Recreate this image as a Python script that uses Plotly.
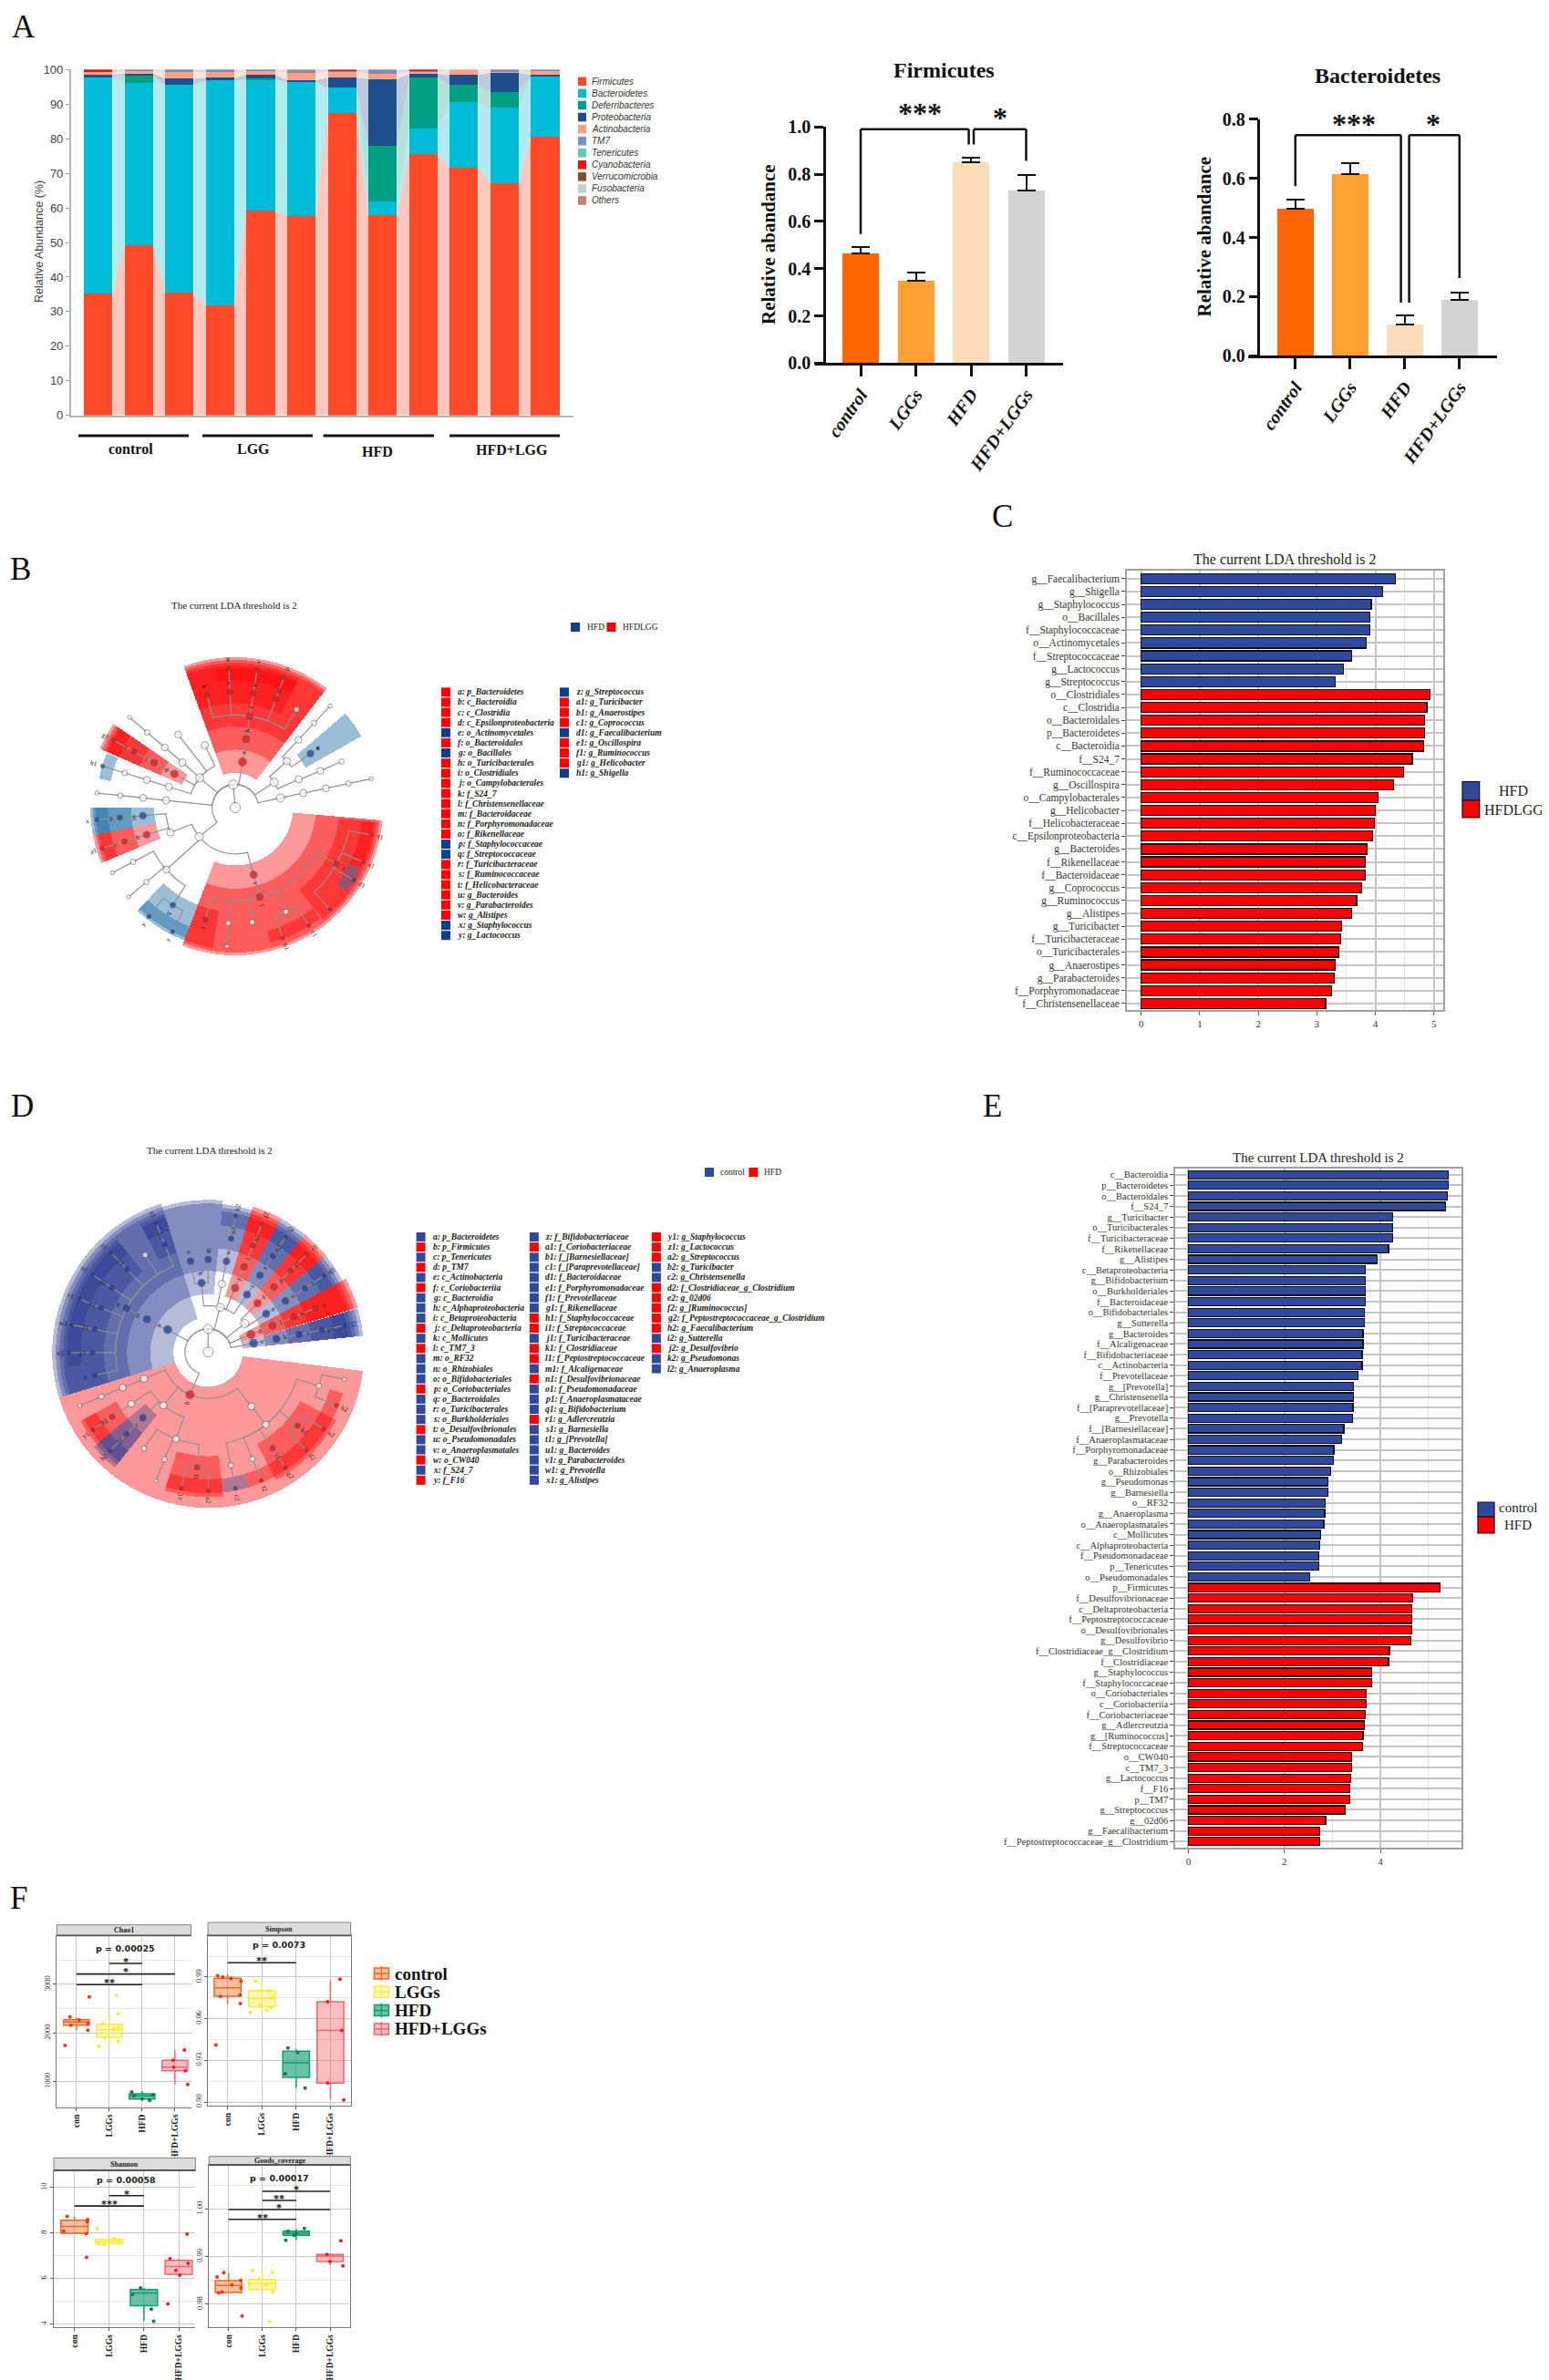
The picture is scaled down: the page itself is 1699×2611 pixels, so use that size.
import numpy as np
import plotly.graph_objects as go

W, H = 1699, 2611
PAGE_MARGIN = 8
SERIF = "Liberation Serif"
SANS = "Liberation Sans"
RED = "#ff0000"
NAVY = "#2f4a9c"

# ---------- panel A data ----------
samples = list(range(12))
phyla = ["Firmicutes", "Bacteroidetes", "Deferribacteres", "Proteobacteria", "Actinobacteria", "TM7",
         "Tenericutes", "Cyanobacteria", "Verrucomicrobia", "Fusobacteria", "Others"]
phyla_colors = ["#ff4a2a", "#00bcd8", "#009e82", "#1f4e8c", "#ffa080", "#7a8fc0",
                "#5fcdb5", "#ee1111", "#7e5233", "#c8cdd0", "#c98078"]
firmicutes = [35.2, 49.3, 35.4, 31.8, 59.1, 57.7, 87.5, 57.8, 75.5, 71.7, 67.1, 80.5]
bacteroidetes = [62.4, 46.8, 60.2, 65.0, 37.7, 38.6, 7.2, 4.0, 7.5, 18.9, 21.9, 17.5]
deferribacteres = [0, 2.3, 0, 0, 0.6, 0, 0, 16.2, 14.6, 5.0, 4.6, 0]
proteobacteria = [0.9, 0.4, 1.8, 0.8, 1.1, 0.6, 2.9, 19.3, 1.1, 2.8, 5.4, 0.4]
actinobacteria = [0.9, 0.8, 1.8, 1.6, 1.0, 2.0, 1.8, 1.5, 0.7, 1.6, 0.4, 1.2]
tm7 = [0, 0.4, 0.8, 0.8, 0.5, 0.8, 0.2, 1.0, 0.3, 0, 0.6, 0.4]
tenericutes = [0] * 12
cyanobacteria = [0.6, 0, 0, 0, 0, 0, 0.3, 0, 0.3, 0, 0, 0]
verrucomicrobia = [0] * 12
fusobacteria = [0] * 12
others = [0, 0, 0, 0, 0, 0.3, 0.1, 0.2, 0, 0, 0, 0]
phyla_values = [firmicutes, bacteroidetes, deferribacteres, proteobacteria, actinobacteria, tm7,
                tenericutes, cyanobacteria, verrucomicrobia, fusobacteria, others]

groups4 = ["control", "LGGs", "HFD", "HFD+LGGs"]
group4_colors = ["#ff6600", "#ffa033", "#fddcb9", "#d3d3d3"]
firm_mean = [0.465, 0.35, 0.85, 0.73]
firm_err = [0.028, 0.032, 0.02, 0.067]
bact_mean = [0.497, 0.615, 0.105, 0.19]
bact_err = [0.031, 0.037, 0.032, 0.024]

# ---------- LDA bars ----------
c_names = ["g__Faecalibacterium", "g__Shigella", "g__Staphylococcus", "o__Bacillales", "f__Staphylococcaceae",
           "o__Actinomycetales", "f__Streptococcaceae", "g__Lactococcus", "g__Streptococcus", "o__Clostridiales",
           "c__Clostridia", "o__Bacteroidales", "p__Bacteroidetes", "c__Bacteroidia", "f__S24_7",
           "f__Ruminococcaceae", "g__Oscillospira", "o__Campylobacterales", "g__Helicobacter", "f__Helicobacteraceae",
           "c__Epsilonproteobacteria", "g__Bacteroides", "f__Rikenellaceae", "f__Bacteroidaceae", "g__Coprococcus",
           "g__Ruminococcus", "g__Alistipes", "g__Turicibacter", "f__Turicibacteraceae", "o__Turicibacterales",
           "g__Anaerostipes", "g__Parabacteroides", "f__Porphyromonadaceae", "f__Christensenellaceae"]
c_values = [4.34, 4.13, 3.93, 3.91, 3.90, 3.84, 3.60, 3.45, 3.32, 4.93, 4.88, 4.84, 4.84, 4.83, 4.63, 4.48, 4.31,
            4.04, 4.00, 3.99, 3.95, 3.86, 3.83, 3.83, 3.76, 3.68, 3.59, 3.42, 3.41, 3.38, 3.31, 3.30, 3.25, 3.15]
c_blue_count = 9

e_names = ["c__Bacteroidia", "p__Bacteroidetes", "o__Bacteroidales", "f__S24_7", "g__Turicibacter",
           "o__Turicibacterales", "f__Turicibacteraceae", "f__Rikenellaceae", "g__Alistipes", "c__Betaproteobacteria",
           "g__Bifidobacterium", "o__Burkholderiales", "f__Bacteroidaceae", "o__Bifidobacteriales", "g__Sutterella",
           "g__Bacteroides", "f__Alcaligenaceae", "f__Bifidobacteriaceae", "c__Actinobacteria", "f__Prevotellaceae",
           "g__[Prevotella]", "g__Christensenella", "f__[Paraprevotellaceae]", "g__Prevotella", "f__[Barnesiellaceae]",
           "f__Anaeroplasmataceae", "f__Porphyromonadaceae", "g__Parabacteroides", "o__Rhizobiales", "g__Pseudomonas",
           "g__Barnesiella", "o__RF32", "g__Anaeroplasma", "o__Anaeroplasmatales", "c__Mollicutes",
           "c__Alphaproteobacteria", "f__Pseudomonadaceae", "p__Tenericutes", "o__Pseudomonadales", "p__Firmicutes",
           "f__Desulfovibrionaceae", "c__Deltaproteobacteria", "f__Peptostreptococcaceae", "o__Desulfovibrionales",
           "g__Desulfovibrio", "f__Clostridiaceae_g__Clostridium", "f__Clostridiaceae", "g__Staphylococcus",
           "f__Staphylococcaceae", "o__Coriobacteriales", "c__Coriobacteriia", "f__Coriobacteriaceae", "g__Adlercreutzia",
           "g__[Ruminococcus]", "f__Streptococcaceae", "o__CW040", "c__TM7_3", "g__Lactococcus", "f__F16", "p__TM7",
           "g__Streptococcus", "g__02d06", "g__Faecalibacterium", "f__Peptostreptococcaceae_g__Clostridium"]
e_values = [5.42, 5.41, 5.40, 5.35, 4.26, 4.25, 4.25, 4.17, 3.93, 3.69, 3.69, 3.69, 3.68, 3.66, 3.66, 3.64, 3.64,
            3.62, 3.62, 3.54, 3.44, 3.44, 3.43, 3.42, 3.24, 3.19, 3.03, 3.02, 2.97, 2.91, 2.90, 2.85, 2.84, 2.82,
            2.75, 2.73, 2.71, 2.71, 2.52, 5.25, 4.67, 4.66, 4.66, 4.65, 4.64, 4.19, 4.17, 3.82, 3.82, 3.70, 3.70,
            3.69, 3.67, 3.64, 3.63, 3.40, 3.40, 3.38, 3.37, 3.36, 3.27, 2.86, 2.73, 2.73]
e_blue_count = 39

# ---------- cladogram legends ----------
b_legend_1 = ["a: p_Bacteroidetes", "b: c_Bacteroidia", "c: c_Clostridia", "d: c_Epsilonproteobacteria",
              "e: o_Actinomycetales", "f: o_Bacteroidales", "g: o_Bacillales", "h: o_Turicibacterales",
              "i: o_Clostridiales", "j: o_Campylobacterales", "k: f_S24_7", "l: f_Christensenellaceae",
              "m: f_Bacteroidaceae", "n: f_Porphyromonadaceae", "o: f_Rikenellaceae", "p: f_Staphylococcaceae",
              "q: f_Streptococcaceae", "r: f_Turicibacteraceae", "s: f_Ruminococcaceae", "t: f_Helicobacteraceae",
              "u: g_Bacteroides", "v: g_Parabacteroides", "w: g_Alistipes", "x: g_Staphylococcus", "y: g_Lactococcus"]
b_legend_2 = ["z: g_Streptococcus", "a1: g_Turicibacter", "b1: g_Anaerostipes", "c1: g_Coprococcus",
              "d1: g_Faecalibacterium", "e1: g_Oscillospira", "f1: g_Ruminococcus", "g1: g_Helicobacter", "h1: g_Shigella"]
b_legend_blue = {"e", "g", "p", "q", "x", "y", "z", "d1", "h1"}

d_legend_1 = ["a: p_Bacteroidetes", "b: p_Firmicutes", "c: p_Tenericutes", "d: p_TM7", "e: c_Actinobacteria",
              "f: c_Coriobacteriia", "g: c_Bacteroidia", "h: c_Alphaproteobacteria", "i: c_Betaproteobacteria",
              "j: c_Deltaproteobacteria", "k: c_Mollicutes", "l: c_TM7_3", "m: o_RF32", "n: o_Rhizobiales",
              "o: o_Bifidobacteriales", "p: o_Coriobacteriales", "q: o_Bacteroidales", "r: o_Turicibacterales",
              "s: o_Burkholderiales", "t: o_Desulfovibrionales", "u: o_Pseudomonadales", "v: o_Anaeroplasmatales",
              "w: o_CW040", "x: f_S24_7", "y: f_F16"]
d_legend_2 = ["z: f_Bifidobacteriaceae", "a1: f_Coriobacteriaceae", "b1: f_[Barnesiellaceae]", "c1: f_[Paraprevotellaceae]",
              "d1: f_Bacteroidaceae", "e1: f_Porphyromonadaceae", "f1: f_Prevotellaceae", "g1: f_Rikenellaceae",
              "h1: f_Staphylococcaceae", "i1: f_Streptococcaceae", "j1: f_Turicibacteraceae", "k1: f_Clostridiaceae",
              "l1: f_Peptostreptococcaceae", "m1: f_Alcaligenaceae", "n1: f_Desulfovibrionaceae", "o1: f_Pseudomonadaceae",
              "p1: f_Anaeroplasmataceae", "q1: g_Bifidobacterium", "r1: g_Adlercreutzia", "s1: g_Barnesiella",
              "t1: g_[Prevotella]", "u1: g_Bacteroides", "v1: g_Parabacteroides", "w1: g_Prevotella", "x1: g_Alistipes"]
d_legend_3 = ["y1: g_Staphylococcus", "z1: g_Lactococcus", "a2: g_Streptococcus", "b2: g_Turicibacter",
              "c2: g_Christensenella", "d2: f_Clostridiaceae_g_Clostridium", "e2: g_02d06", "f2: g_[Ruminococcus]",
              "g2: f_Peptostreptococcaceae_g_Clostridium", "h2: g_Faecalibacterium", "i2: g_Sutterella",
              "j2: g_Desulfovibrio", "k2: g_Pseudomonas", "l2: g_Anaeroplasma"]
d_legend_red = {"b", "d", "f", "j", "l", "p", "t", "w", "y", "a1", "h1", "i1", "k1", "l1", "n1", "r1", "y1", "z1",
                "a2", "d2", "e2", "f2", "g2", "h2", "j2"}

# ---------- cladogram trees: id, parent, level, angle, group, span ----------
clade_b = [
    ("_r", None, 0, 90, None, None), ("_k", "_r", 1, 95, None, None),
    ("a", "_k", 2, 81, "r", (52.5, 110)), ("b", "a", 3, 81, "r", (52.5, 110)), ("f", "b", 4, 81, "r", (52.5, 110)),
    ("k", "f", 5, 104, "r", (98.3, 110)), ("o", "f", 5, 92.6, "r", (86.8, 98.3)), ("w", "o", 6, 92.6, "r", (86.8, 98.3)),
    ("n", "f", 5, 81, "r", (75.3, 86.8)), ("v", "n", 6, 81, "r", (75.3, 86.8)),
    ("m", "f", 5, 69.5, "r", (63.8, 75.3)), ("u", "m", 6, 69.5, "r", (63.8, 75.3)), ("_1", "f", 5, 58, None, None),
    ("_2", "_k", 2, 12, None, None), ("_3", "_2", 3, 12, None, None), ("_4", "_3", 4, 12, None, None),
    ("_5", "_4", 5, 12, None, None), ("_6", "_5", 6, 12, None, None),
    ("_A", "_k", 2, 33, None, None), ("_7", "_A", 3, 24, None, None), ("_8", "_7", 4, 23.4, None, None),
    ("_9", "_8", 5, 23.4, None, None), ("_10", "_A", 3, 42, None, None),
    ("e", "_10", 4, 35.7, "b", (29.5, 40.5)), ("_11", "e", 4.4, 35.7, "n", None),
    ("_12", "_10", 4, 47, None, None), ("_13", "_12", 5, 47, None, None), ("_14", "_13", 6, 47, None, None),
    ("_P", "_k", 2, 140, None, None),
    ("d", "_P", 3, 151, "r", (145.5, 156.5)), ("j", "d", 4, 151, "r", (145.5, 156.5)),
    ("t", "j", 5, 151, "r", (145.5, 156.5)), ("g1", "t", 6, 151, "r", (145.5, 156.5)),
    ("_15", "_P", 3, 162.6, None, None), ("_16", "_15", 4, 162.6, None, None), ("_17", "_16", 5, 162.6, None, None),
    ("h1", "_17", 6, 162.6, "b", (157, 168)),
    ("_18", "_P", 3, 139.5, None, None), ("_19", "_18", 4, 139.5, None, None), ("_20", "_19", 5, 139.5, None, None),
    ("_21", "_20", 6, 139.5, None, None), ("_22", "_P", 4, 128, None, None), ("_23", "_P", 3, 116, None, None),
    ("_24", "_k", 3, 174, None, None), ("_25", "_24", 4, 174, None, None), ("_26", "_25", 5, 174, None, None),
    ("_27", "_26", 6, 174, None, None),
    ("_F", "_k", 2, 219, None, None), ("_Ba", "_F", 3, 201, None, None),
    ("g", "_Ba", 4, 185, "b", (180, 191)), ("p", "g", 5, 185, "b", (180, 191)), ("x", "p", 6, 185, "b", (180, 191)),
    ("h", "_Ba", 4, 197, "r", (191, 202.5)), ("r", "h", 5, 197, "r", (191, 202.5)), ("a1", "r", 6, 197, "r", (191, 202.5)),
    ("_La", "_F", 4, 222, None, None), ("_28", "_La", 5, 208, None, None), ("_29", "_28", 6, 208, None, None),
    ("_30", "_La", 5, 220, None, None), ("_31", "_30", 6, 220, None, None),
    ("q", "_La", 5, 237.4, "b", (226.5, 249)), ("y", "q", 6, 231.6, "b", (226.5, 237.6)), ("z", "q", 6, 243.2, "b", (237.6, 249)),
    ("c", "_F", 3, 285.3, "r", (249, 355)), ("i", "c", 4, 285.3, "r", (249, 355)),
    ("l", "i", 5, 255, "r", (249, 261)), ("_32", "i", 5, 266.6, None, None), ("_33", "_32", 6, 266.6, None, None),
    ("_34", "i", 5, 278.4, None, None), ("_35", "i", 5, 296, None, None),
    ("b1", "_35", 6, 290, "r", (284.5, 296)), ("c1", "_35", 6, 302, "r", (296, 307.5)),
    ("s", "i", 5, 331, "r", (308, 354)), ("_36", "s", 6, 313, "n", None),
    ("d1", "s", 6, 328.6, "b", (323, 334)), ("e1", "s", 6, 337, "r", (334, 343)), ("f1", "s", 6, 348.6, "r", (343, 354)),
]

clade_d = [
    ("_r", None, 0, 90, None, None), ("_k", "_r", 1, 90, None, None),
    ("c", "_k", 2, 11, "b", (6, 16.3)), ("k", "c", 3, 11, "b", (6, 16.3)), ("v", "k", 4, 11, "b", (6, 16.3)),
    ("p1", "v", 5, 11, "b", (6, 16.3)), ("l2", "p1", 6, 11, "b", (6, 16.3)),
    ("d", "_k", 2, 22.3, "r", (16.5, 28)), ("l", "d", 3, 22.3, "r", (16.5, 28)), ("w", "l", 4, 22.3, "r", (16.5, 28)),
    ("y", "w", 5, 22.3, "r", (16.5, 28)),
    ("_A", "_k", 2, 38, None, None),
    ("e", "_A", 3, 33.4, "b", (28, 39.3)), ("o", "e", 4, 33.4, "b", (28, 39.3)), ("z", "o", 5, 33.4, "b", (28, 39.3)),
    ("q1", "z", 6, 33.4, "b", (28, 39.3)),
    ("f", "_A", 3, 44.7, "r", (39.3, 50.5)), ("p", "f", 4, 44.7, "r", (39.3, 50.5)), ("a1", "p", 5, 44.7, "r", (39.3, 50.5)),
    ("r1", "a1", 6, 44.7, "r", (39.3, 50.5)),
    ("_P", "_k", 2, 75, None, None),
    ("i", "_P", 3, 56, "b", (50.5, 61.5)), ("s", "i", 4, 56, "b", (50.5, 61.5)), ("m1", "s", 5, 56, "b", (50.5, 61.5)),
    ("i2", "m1", 6, 56, "b", (50.5, 61.5)),
    ("j", "_P", 3, 67.2, "r", (61.5, 73)), ("t", "j", 4, 67.2, "r", (61.5, 73)), ("n1", "t", 5, 67.2, "r", (61.5, 73)),
    ("j2", "n1", 6, 67.2, "r", (61.5, 73)),
    ("_w", "_P", 3, 78.6, None, None), ("u", "_w", 4, 78.6, "b", (73, 84.4)), ("o1", "u", 5, 78.6, "b", (73, 84.4)),
    ("k2", "o1", 6, 78.6, "b", (73, 84.4)),
    ("h", "_P", 3, 95.5, "b", (84.4, 107.5)), ("n", "h", 4, 101, "b", (96, 107.5)), ("m", "h", 4, 90, "b", (84.4, 96)),
    ("a", "_k", 2, 151, "b", (107.5, 197)), ("g", "a", 3, 151.7, "b", (107.5, 197)), ("q", "g", 4, 151.8, "b", (107.5, 197)),
    ("b1", "q", 5, 112, "b", (107.5, 118)), ("s1", "b1", 6, 112, "b", (107.5, 118)), ("_0", "q", 5, 123, None, None),
    ("c1", "q", 5, 134.4, "b", (129, 140.3)), ("t1", "c1", 6, 134.4, "b", (129, 140.3)),
    ("d1", "q", 5, 146.2, "b", (140.3, 152)), ("u1", "d1", 6, 146.2, "b", (140.3, 152)),
    ("e1", "q", 5, 157.5, "b", (152, 163)), ("v1", "e1", 6, 157.5, "b", (152, 163)),
    ("f1", "q", 5, 168.7, "b", (163, 174.5)), ("w1", "f1", 6, 168.7, "b", (163, 174.5)),
    ("g1", "q", 5, 180.3, "b", (174.5, 186)), ("x1", "g1", 6, 180.3, "b", (174.5, 186)),
    ("x", "q", 5, 191.5, "b", (186, 197)),
    ("b", "_k", 2, 247, "r", (197, 353)),
    ("_1", "b", 3, 202.6, None, None), ("_2", "_1", 4, 202.6, None, None), ("_3", "_2", 5, 202.6, None, None),
    ("_4", "_3", 6, 202.6, None, None),
    ("_C", "b", 3, 230, None, None), ("_C1", "_C", 4, 214, None, None),
    ("h1", "_C1", 5, 214, "r", (208.4, 219.6)), ("y1", "h1", 6, 214, "r", (208.4, 219.6)),
    ("r", "_C", 4, 225.2, "b", (219.6, 231)), ("j1", "r", 5, 225.2, "b", (219.6, 231)), ("b2", "j1", 6, 225.2, "b", (219.6, 231)),
    ("_C2", "_C", 4, 249.7, None, None), ("_5", "_C2", 5, 236.4, None, None), ("_6", "_C2", 5, 247.9, None, None),
    ("_7", "_6", 6, 247.9, None, None),
    ("l1", "_C2", 5, 264.5, "r", (252.6, 276)), ("z1", "l1", 6, 258.9, "r", (252.6, 264.5)), ("a2", "l1", 6, 270.1, "r", (264.5, 276)),
    ("_L", "b", 3, 308.5, None, None), ("_O", "_L", 4, 308.5, None, None),
    ("_8", "_O", 5, 281.3, None, None), ("c2", "_8", 6, 281.3, "b", (276, 287)),
    ("_9", "_O", 5, 292.5, None, None), ("f2", "_9", 6, 292.5, "r", (287, 298)),
    ("i1", "_O", 5, 303.8, "r", (298, 309.5)), ("g2", "i1", 6, 303.8, "r", (298, 309.5)),
    ("k1", "_O", 5, 320.5, "r", (309.5, 332)), ("d2", "k1", 6, 315, "r", (309.5, 320.5)), ("e2", "k1", 6, 326.3, "r", (320.5, 332)),
    ("_10", "_O", 5, 343, None, None), ("h2", "_10", 6, 337.4, "r", (332, 343)), ("_11", "_10", 6, 348.7, None, None),
]

# ---------- alpha diversity: q1, median, q3, lower fence, upper fence ----------
box_colors = ["#f4661c", "#f7e93e", "#0f9d6f", "#f2636b"]
box_fills = ["rgba(244,102,28,.42)", "rgba(250,240,70,.42)", "rgba(15,157,111,.62)", "rgba(242,99,107,.42)"]
dot_colors = ["#f2360f", "#f7ee30", "#0a7d4d", "#ee2026"]

chao_stats = [(2162, 2225, 2275, 2056, 2319), (1912, 2069, 2181, 1725, 2381), (644, 706, 750, 631, 806), (1225, 1300, 1437, 944, 1644)]
chao_points = [
    [(-.35, 1744), (-.2, 2331), (-.17, 2162), (.08, 2269), (.35, 2194), (.35, 2056), (.39, 2744)],
    [(-.31, 1731), (-.19, 2194), (-.13, 1900), (.14, 2100), (.27, 2400), (.21, 2775), (.27, 1831), (.29, 2119)],
    [(-.32, 788), (-.25, 706), (0, 644), (.23, 613), (.33, 725)],
    [(-.06, 1437), (-.04, 1300), (.32, 1225), (.29, 1650), (.39, 944)]]
chao_sig = [(0, 2, 2994, "**"), (0, 3, 3212, "*"), (1, 2, 3431, "*")]

simpson_stats = [(.9762, .9823, .9891, .9707, .992), (.9686, .9745, .9801, .9648, .987), (.9177, .9283, .9366, .91, .9385), (.9136, .9516, .9722, .9018, .988)]
simpson_points = [
    [(-.34, .941), (-.29, .991), (-.21, .976), (-.14, .99), (.1, .989), (.36, .977), (.39, .987), (.37, .971)],
    [(-.34, .9646), (-.18, .987), (-.11, .98), (-.07, .97), (.14, .966), (.22, .98), (.3, .9755), (.27, .968)],
    [(-.32, .9204), (-.24, .939), (.05, .9357), (.26, .91)],
    [(-.08, .9722), (-.08, .9136), (.33, .9516), (.28, .9885), (.39, .9015)]]
simpson_sig = [(0, 2, 1.0003, "**")]

shannon_stats = [(7.99, 8.29, 8.56, 8.0, 8.73), (7.53, 7.63, 7.73, 7.47, 7.8), (4.8, 5.37, 5.52, 4.13, 5.6), (6.19, 6.53, 6.8, 6.19, 6.87)]
shannon_points = [
    [(-.31, 8.08), (-.21, 8.73), (.37, 8.49), (.38, 8.59), (.34, 7.97), (.35, 6.93)],
    [(-.35, 8.19), (-.29, 7.52), (-.16, 7.49), (.15, 7.76), (.28, 7.63)],
    [(-.33, 5.31), (-.1, 5.59), (.21, 4.65), (.28, 4.12)],
    [(-.25, 6.87), (-.08, 6.36), (.03, 6.15), (.27, 6.67), (.24, 7.95), (-.31, 4.88)]]
shannon_sig = [(0, 2, 9.19, "***"), (1, 2, 9.65, "*")]

goods_stats = [(.98248, .98395, .98497, .9824, .9865), (.98312, .9844, .98522, .98312, .98694), (.99446, .9949, .99535, .9935, .99586), (.98898, .99013, .99045, .9882, .99057)]
goods_points = [
    [(-.34, .98573), (-.14, .98662), (-.29, .9824), (-.19, .9826), (.1, .98408), (.36, .98503), (.37, .98344), (.4, .97758)],
    [(-.29, .98707), (-.39, .9844), (-.1, .9854), (.29, .98669), (.3, .98261), (.22, .97643), (.11, .98408)],
    [(-.31, .99344), (-.24, .99535), (-.06, .99446), (.24, .99592), (0, .9949)],
    [(-.09, .99045), (0, .98898), (.32, .99331), (.38, .98809)]]
goods_sig = [(0, 2, .99783, "**"), (0, 3, .99987, "*"), (1, 2, 1.00178, "**"), (1, 3, 1.00369, "*")]

PLOT_W = W - PAGE_MARGIN
PLOT_H = H - PAGE_MARGIN


# the page keeps its default body margin, so picture pixels are moved by it here
def px(x):
    return (x - PAGE_MARGIN) / PLOT_W


def py(y):
    return 1 - (y - PAGE_MARGIN) / PLOT_H


fig = go.Figure()
shapes = []
notes = []
layout = {}


def note(x, y, text, size, family=SERIF, color="#111", anchor="center", angle=0, weight=None, style=None):
    font = dict(size=size, family=family, color=color)
    if weight:
        font["weight"] = weight
    if style:
        font["style"] = style
    notes.append(dict(x=px(x), y=py(y), xref="paper", yref="paper", text=text, showarrow=False, font=font,
                      xanchor=anchor, yanchor="middle", textangle=angle))


def page_rect(x0, y0, x1, y1, fill, line=None, width=0):
    shapes.append(dict(type="rect", xref="paper", yref="paper", x0=px(x0), x1=px(x1), y0=py(y0), y1=py(y1),
                       fillcolor=fill, line=dict(color=line or fill, width=width), layer="above"))


def page_line(x0, y0, x1, y1, color="#111", width=2):
    shapes.append(dict(type="line", xref="paper", yref="paper", x0=px(x0), x1=px(x1), y0=py(y0), y1=py(y1),
                       line=dict(color=color, width=width), layer="above"))


def axes(n, left, right, top, bottom):
    xa = dict(domain=[px(left), px(right)], anchor=f"y{n}", showgrid=False, zeroline=False, automargin=False)
    ya = dict(domain=[py(bottom), py(top)], anchor=f"x{n}", showgrid=False, zeroline=False, automargin=False)
    layout[f"xaxis{n}"] = xa
    layout[f"yaxis{n}"] = ya
    return xa, ya


# ---------- panel letters ----------
for letter, lx, ly in [("A", 26, 30), ("B", 22, 625), ("C", 1099, 566), ("D", 24, 1213), ("E", 1088, 1213), ("F", 20, 2082)]:
    note(lx, ly, letter, 35)

# ---------- A: stacked bars ----------
xa, ya = axes(1, 77.7, 629, 76.3, 455.7)
xa.update(range=[-0.673, 11.695], showticklabels=False, ticks="", showline=True, linecolor="#b5b5b5", linewidth=2)
ya.update(range=[0, 100], dtick=10, ticks="outside", ticklen=4, tickcolor="#999", showline=True, linecolor="#b5b5b5", linewidth=1.5,
          tickfont=dict(family=SANS, size=13, color="#444"))
BAR = 0.7
lower = np.zeros(12)
for name, color, vals in zip(phyla, phyla_colors, phyla_values):
    vals = np.array(vals, dtype=float)
    upper = lower + vals
    # translucent band between neighbouring columns
    bx, by = [], []
    for i in samples[:-1]:
        bx += [i + BAR / 2, i + 1 - BAR / 2, i + 1 - BAR / 2, i + BAR / 2, i + BAR / 2, None]
        by += [lower[i], lower[i + 1], upper[i + 1], upper[i], lower[i], None]
    rgb = tuple(int(color[k:k + 2], 16) for k in (1, 3, 5))
    if vals.sum() > 0:
        fig.add_trace(go.Scatter(x=bx, y=by, fill="toself", mode="none", fillcolor="rgba(%d,%d,%d,.3)" % rgb,
                                 showlegend=False, xaxis="x1", yaxis="y1", hoverinfo="skip"))
    fig.add_trace(go.Bar(x=samples, y=vals, width=BAR, marker=dict(color=color, line=dict(width=0)), name=name,
                         showlegend=False, xaxis="x1", yaxis="y1"))
    lower = upper

for i, (name, color) in enumerate(zip(phyla, phyla_colors)):
    ly = 89.3 + i * 13.07
    page_rect(634, ly - 4.8, 643, ly + 4.8, color)
    note(647, ly, name, 10, family=SANS, color="#333", anchor="left", style="italic")
note(43, 265, "Relative Abundance (%)", 12.5, family=SANS, color="#444", angle=-90)
for x0, x1, label, lx, ly in [(86, 207, "control", 143, 493), (222, 343, "LGG", 278, 493),
                              (354.6, 476, "HFD", 413.7, 495), (493, 614, "HFD+LGG", 561, 494)]:
    page_line(x0, 478, x1, 478, width=3)
    note(lx, ly, label, 16, weight="bold")


# ---------- A: Firmicutes and Bacteroidetes ----------
def mean_bars(n, values, errors, frame, axis_x, top, bottom, ymax, dtick, zero, unit):
    xa, ya = axes(n, frame[0], frame[1], top, bottom)
    xa.update(range=[(frame[0] - zero) / unit, (frame[1] - zero) / unit], tickvals=list(range(4)), ticktext=groups4,
              tickangle=-55, ticks="outside", ticklen=12, tickwidth=2.5, tickcolor="#111", showline=True, linecolor="#111", linewidth=3,
              tickfont=dict(family=SERIF, size=20, color="#111", style="italic", weight="bold"))
    ya.update(range=[0, ymax], dtick=dtick, tickformat=".1f", ticks="outside", ticklen=10, tickwidth=2.5, tickcolor="#111",
              showline=True, linecolor="#111", linewidth=2.5, anchor="free", position=px(axis_x),
              tickfont=dict(family=SERIF, size=20, color="#111", weight="bold"))
    fig.add_trace(go.Bar(x=list(range(4)), y=values, width=40 / unit, marker=dict(color=group4_colors, line=dict(width=0)),
                         error_y=dict(type="data", symmetric=False, array=errors, arrayminus=[0] * 4, color="#111", thickness=2, width=10),
                         showlegend=False, xaxis=f"x{n}", yaxis=f"y{n}"))


def bracket(n, xs, ys):
    for k in range(len(xs) - 1):
        shapes.append(dict(type="line", xref=f"x{n}", yref=f"y{n}", x0=xs[k], x1=xs[k + 1], y0=ys[k], y1=ys[k + 1],
                           line=dict(color="#111", width=2.5)))


mean_bars(2, firm_mean, firm_err, (894, 1166), 904, 139.3, 398.3, 1.0, 0.2, 944, 60.5)
bracket(2, [0, 0, 1.96, 1.96], [0.547, 0.991, 0.991, 0.926])
bracket(2, [2.05, 2.05, 3, 3], [0.926, 0.991, 0.991, 0.856])
note(1035, 77, "Firmicutes", 24, weight="bold")
note(843, 268, "Relative abandance", 21, angle=-90, weight="bold")
note(1009, 124, "***", 32, weight="bold")
note(1097, 129, "*", 32, weight="bold")

mean_bars(3, bact_mean, bact_err, (1369, 1641.5), 1380.4, 130.7, 390.3, 0.8, 0.2, 1420.8, 60)
bracket(3, [0, 0, 1.93, 1.93], [0.573, 0.7456, 0.7456, 0.18])
bracket(3, [2.08, 2.08, 3, 3], [0.18, 0.7456, 0.7456, 0.263])
note(1510.7, 83, "Bacteroidetes", 24, weight="bold")
note(1320.5, 260, "Relative abandance", 21, angle=-90, weight="bold")
note(1485, 136, "***", 32, weight="bold")
note(1572, 136, "*", 32, weight="bold")


# ---------- C and E: LDA bars ----------
def lda_bars(n, names, values, blue_count, left, right, top, bottom, x_range, y_range, dtick, minor, font_size):
    xa, ya = axes(n, left, right, top, bottom)
    xa.update(range=x_range, dtick=dtick, tick0=0, showgrid=True, gridcolor="#c4c4c4", gridwidth=1.5, ticks="outside", ticklen=4, tickcolor="#555",
              minor=dict(dtick=minor, showgrid=True, gridcolor="#e2e2e2", gridwidth=1), showline=True, mirror=True, linecolor="#a0a0a0", linewidth=2,
              tickfont=dict(family=SERIF, size=11, color="#333"))
    ya.update(range=y_range, tickvals=list(range(len(names))), ticktext=names, showgrid=True, gridcolor="#c4c4c4", gridwidth=1.5,
              ticks="outside", ticklen=4, tickcolor="#444", showline=True, mirror=True, linecolor="#a0a0a0", linewidth=2,
              tickfont=dict(family=SERIF, size=font_size, color="#333"))
    colors = [NAVY] * blue_count + [RED] * (len(names) - blue_count)
    fig.add_trace(go.Bar(y=list(range(len(names))), x=values, orientation="h", width=0.78,
                         marker=dict(color=colors, line=dict(color="#111", width=1.2)), showlegend=False, xaxis=f"x{n}", yaxis=f"y{n}"))


lda_bars(4, c_names, c_values, c_blue_count, 1236.2, 1583, 626.3, 1108, [-0.243, 5.16], [33.5, -0.6], 1, 0.5, 11.5)
note(1409, 613.5, "The current LDA threshold is 2", 16, color="#222")
page_rect(1604, 857.5, 1622.7, 878, NAVY, "#111", 1.2)
page_rect(1604, 878, 1622.7, 897, RED, "#111", 1.2)
note(1660, 867.5, "HFD", 16, color="#222")
note(1660, 888, "HFDLGG", 16, color="#222")

lda_bars(5, e_names, e_values, e_blue_count, 1289.3, 1602.5, 1281.7, 2026.7, [-0.268, 5.68], [63.55, -0.6], 2, 1, 10.5)
note(1445.5, 1270, "The current LDA threshold is 2", 15, color="#222")
page_rect(1621, 1648, 1639, 1664, NAVY, "#111", 1.2)
page_rect(1621, 1664, 1639, 1682, RED, "#111", 1.2)
note(1665, 1654, "control", 15, color="#222")
note(1665, 1673, "HFD", 15, color="#222")


# ---------- B and D: cladograms ----------
def cladogram(name, rows, cx, cy, outer, rim_step, blue, node_blue):
    unit = 25.4
    half = 182
    layout[name] = dict(domain=dict(x=[px(cx - half), px(cx + half)], y=[py(cy + half), py(cy - half)]),
                        radialaxis=dict(visible=False, range=[0, half]), angularaxis=dict(visible=False),
                        bgcolor="rgba(0,0,0,0)", barmode="overlay")
    lookup = {row[0]: row for row in rows}
    for group, color in [("r", "rgba(255,0,0,.4)"), ("b", blue)]:
        r, base, theta, width = [], [], [], []
        for key, parent, level, angle, grp, span in rows:
            if grp == group and span:
                inner = (level - 0.5) * unit
                base.append(inner)
                r.append(outer - (level - 2) * rim_step - inner)
                theta.append((span[0] + span[1]) / 2)
                width.append(span[1] - span[0])
        fig.add_trace(go.Barpolar(r=r, base=base, theta=theta, width=width, marker=dict(color=color, line=dict(width=0)),
                                  subplot=name, showlegend=False))
    er, et = [], []
    for key, parent, level, angle, grp, span in rows:
        if parent is None:
            continue
        p = lookup[parent]
        delta = ((angle - p[3] + 180) % 360) - 180
        steps = max(1, int(abs(delta) / 3))
        for k in range(steps + 1):
            er.append(p[2] * unit)
            et.append(p[3] + delta * k / steps)
        er += [level * unit, None]
        et += [angle, None]
    fig.add_trace(go.Scatterpolar(r=er, theta=et, mode="lines", line=dict(color="#909090", width=1.2), subplot=name,
                                  showlegend=False, hoverinfo="skip"))
    sizes = {0: 11, 1: 10, 2: 9, 3: 8, 4: 7.5, 5: 6, 6: 4.5}
    fill = {None: "white", "r": "#e3101c", "b": node_blue, "n": node_blue}
    nr = [row[2] * unit for row in rows]
    nt = [row[3] for row in rows]
    fig.add_trace(go.Scatterpolar(r=nr, theta=nt, mode="markers", subplot=name, showlegend=False,
                                  marker=dict(size=[3.5 if row[4] == "n" else sizes[int(row[2])] for row in rows],
                                              color=[fill[row[4]] for row in rows], line=dict(color="#4a4a4a", width=0.8)),
                                  text=[row[0] for row in rows], hoverinfo="text"))
    # clade tags read along the radius, which text on a polar trace cannot do
    for key, parent, level, angle, grp, span in rows:
        if key.startswith("_"):
            continue
        rad = level * unit + 10
        cos_a = np.cos(np.radians(angle))
        sin_a = np.sin(np.radians(angle))
        note(cx + rad * cos_a, cy - rad * sin_a, key, 7.5, color="#222", angle=-angle if cos_a >= -0.01 else 180 - angle)


def clade_key(x_swatch, x_text, y0, entries, is_blue, blue, step=11.12):
    for i, text in enumerate(entries):
        y = y0 + i * step
        page_rect(x_swatch - 5, y - 5, x_swatch + 5, y + 5, blue if is_blue(text.split(":")[0]) else RED)
        note(x_text, y, text, 9.5, anchor="left", style="italic", color="#222", weight="bold")


cladogram("polar", clade_b, 258, 886, 165, 3, "rgba(31,111,168,.45)", "#123f9a")
note(257, 664, "The current LDA threshold is 2", 11, color="#222")
page_rect(626, 683, 636, 693, "#0f3f8c")
note(642, 688, "HFD", 9.5, anchor="left", color="#222")
page_rect(665.5, 683, 675.5, 693, RED)
note(681, 688, "HFDLGG", 9.5, anchor="left", color="#222")
clade_key(489, 499.7, 759.3, b_legend_1, lambda k: k in b_legend_blue, "#0f3f8c")
clade_key(619, 630, 759.3, b_legend_2, lambda k: k in b_legend_blue, "#0f3f8c")

cladogram("polar2", clade_d, 228.3, 1483.3, 171, 4, "rgba(30,50,140,.33)", "#1a35a0")
note(229.6, 1261.7, "The current LDA threshold is 2", 11, color="#222")
page_rect(773, 1281, 783, 1291, NAVY)
note(788, 1286, "control", 9.5, anchor="left", color="#222")
page_rect(821.4, 1281, 831.4, 1291, RED)
note(836, 1286, "HFD", 9.5, anchor="left", color="#222")
clade_key(461.6, 472.6, 1357, d_legend_1, lambda k: k not in d_legend_red, NAVY)
clade_key(585.9, 596, 1357, d_legend_2, lambda k: k not in d_legend_red, NAVY)
clade_key(719.9, 730, 1357, d_legend_3, lambda k: k not in d_legend_red, NAVY)


# ---------- F: alpha diversity ----------
def facet(n, title, pval, stats, points, sig, left, right, strip_top, top, bottom, x_range, y_range, tickvals, ticktext, minor, p_x, p_y, closed):
    xa, ya = axes(n, left, right, top, bottom)
    xa.update(range=x_range, tickvals=list(range(4)), ticktext=["con", "LGGs", "HFD", "HFD+LGGs"], tickangle=-90, showgrid=True,
              gridcolor="#c6c6c6", gridwidth=1.2, ticks="outside", ticklen=3, tickcolor="#555", showline=True, mirror=closed, linecolor="#777", linewidth=1.3,
              tickfont=dict(family=SERIF, size=9.5, color="#222", weight="bold"))
    ya.update(range=y_range, tickvals=tickvals, ticktext=ticktext, tickangle=-90, showgrid=True, gridcolor="#c6c6c6", gridwidth=1.2,
              ticks="outside", ticklen=3, tickcolor="#555", showline=True, mirror=closed, linecolor="#777", linewidth=1.3,
              minor=dict(tickvals=minor, showgrid=True, gridcolor="#e4e4e4", gridwidth=1, ticklen=0),
              tickfont=dict(family=SERIF, size=8.5, color="#222"))
    for i, s in enumerate(stats):
        fig.add_trace(go.Box(x=[i], q1=[s[0]], median=[s[1]], q3=[s[2]], lowerfence=[s[3]], upperfence=[s[4]], width=0.78,
                             whiskerwidth=0, boxpoints=False, fillcolor=box_fills[i], line=dict(color=box_colors[i], width=1.5),
                             showlegend=False, xaxis=f"x{n}", yaxis=f"y{n}"))
        fig.add_trace(go.Scatter(x=[i + p[0] for p in points[i]], y=[p[1] for p in points[i]], mode="markers",
                                 marker=dict(size=4, color=dot_colors[i]), showlegend=False, xaxis=f"x{n}", yaxis=f"y{n}"))
    span = y_range[1] - y_range[0]
    for x0, x1, level, stars in sig:
        shapes.append(dict(type="line", xref=f"x{n}", yref=f"y{n}", x0=x0, x1=x1, y0=level, y1=level, line=dict(color="#222", width=1.6), layer="above"))
        notes.append(dict(x=(x0 + x1) / 2, y=level + span * 0.012, xref=f"x{n}", yref=f"y{n}", text=stars, showarrow=False,
                          font=dict(size=12, family=SERIF, color="#111", weight="bold"), yanchor="middle"))
    page_rect(left, strip_top, right, top, "#dcdcdc", "#808080", 1)
    page_line(left, top, right, top, "#555", 1.8)
    note((left + right) / 2, (strip_top + top) / 2, title, 8, weight="bold", color="#222")
    note(p_x, p_y, pval, 9.5, family="DejaVu Sans", color="#222", weight="bold")


facet(6, "Chao1", "p = 0.00025", chao_stats, chao_points, chao_sig, 62.3, 209.5, 2111.7, 2123.3, 2311.7, [-0.6, 3.49], [475, 4006],
      [1000, 2000, 3000], ["1000", "2000", "3000"], [500, 1500, 2500, 3500], 137.7, 2137, False)
facet(7, "Simpson", "p = 0.0073", simpson_stats, simpson_points, simpson_sig, 228.1, 384.6, 2109, 2123.3, 2310, [-0.573, 3.59], [0.8974, 1.02],
      [.90, .93, .96, .99], ["0.90", "0.93", "0.96", "0.99"], [.915, .945, .975, 1.005], 305.7, 2133.3, True)
facet(8, "Shannon", "p = 0.00058", shannon_stats, shannon_points, shannon_sig, 59, 214.3, 2367.3, 2381, 2553.3, [-0.595, 3.48], [3.85, 10.76],
      [4, 6, 8, 10], ["4", "6", "8", "10"], [5, 7, 9], 138.3, 2391.7, False)
facet(9, "Goods_coverage", "p = 0.00017", goods_stats, goods_points, goods_sig, 229.3, 384.3, 2365.7, 2375, 2553.3, [-0.575, 3.6], [0.97516, 1.00924],
      [.98, .99, 1.0], ["0.98", "0.99", "1.00"], [.985, .995, 1.005], 306.7, 2389, True)

for i, name in enumerate(["control", "LGGs", "HFD", "HFD+LGGs"]):
    ly = 2165 + i * 20.3
    page_line(418.3, ly - 8, 418.3, ly + 8, box_colors[i], 1.3)
    page_rect(410.5, ly - 6, 426.5, ly + 6, box_fills[i], box_colors[i], 1.5)
    page_line(410.5, ly, 426.5, ly, box_colors[i], 1.5)
    note(431, ly, name, 19, anchor="left", weight="bold")

fig.update_layout(width=PLOT_W, height=PLOT_H, margin=dict(l=0, r=0, t=0, b=0), paper_bgcolor="white", plot_bgcolor="white",
                  barmode="stack", showlegend=False, shapes=shapes, annotations=notes, **layout)

fig.write_html("out.html")
